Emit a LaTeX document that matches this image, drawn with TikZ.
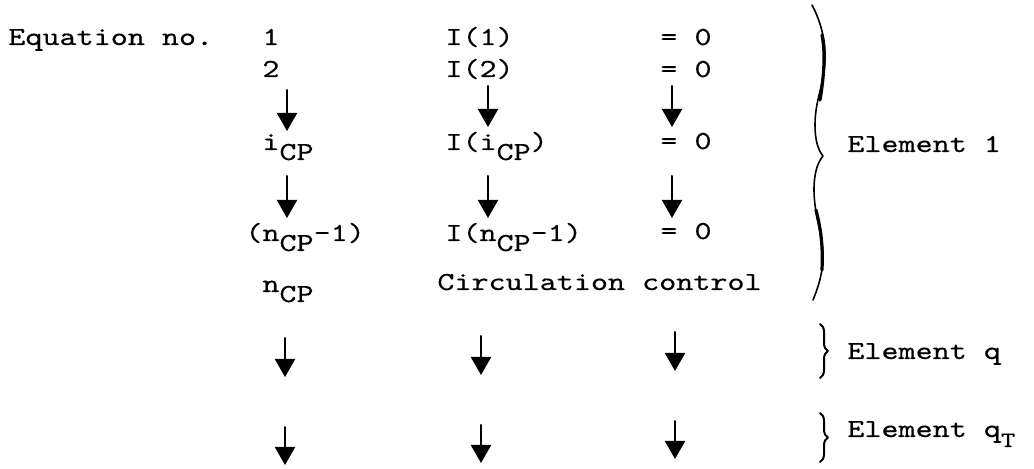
\documentclass[tikz,border=0pt]{standalone}
\usepackage{fontspec}
\usetikzlibrary{arrows.meta,decorations.pathreplacing}

% wide typewriter face
\newfontfamily\typer[FakeStretch=1.25,FakeBold=0.4]{lmmono10-regular.otf}
% subscripts are typed one half line lower
\newcommand\lowr[1]{\raisebox{-5pt}{#1}}

\begin{document}
\begin{tikzpicture}[x=0.5pt,y=-0.5pt,line cap=round,line join=round,
  every node/.style={font=\typer\fontsize{13pt}{15pt}\selectfont},
  txt/.style={anchor=base west,inner sep=0pt},
  arr/.style={line width=1pt,-{Triangle[width=10pt,length=9pt]}},
  brc/.style={line width=1pt,decorate,decoration={brace,amplitude=4pt}}]
  \useasboundingbox (0,0) rectangle (1034,469);

  % equation numbers and equations
  \node[txt] (eqno) at (8,45) {Equation no.};
  \node[txt] (n1) at (262,45) {1};
  \node[txt] (e1) at (445,45) {I(1)};
  \node[txt] (z1) at (660,45) {= 0};
  \node[txt] (n2) at (262,77) {2};
  \node[txt] (e2) at (445,77) {I(2)};
  \node[txt] (z2) at (660,77) {= 0};
  \node[txt] (n3) at (262,150) {i\lowr{CP}};
  \node[txt] (e3) at (445,150) {I(i\lowr{CP})};
  \node[txt] (z3) at (660,149) {= 0};
  \node[txt] (n4) at (245,241) {(n\lowr{CP}-1)};
  \node[txt] (e4) at (445,241) {I(n\lowr{CP}-1)};
  \node[txt] (z4) at (660,239) {= 0};
  \node[txt] (n5) at (262,292) {n\lowr{CP}};
  \node[txt] (circ) at (437,290) {Circulation control};

  % arrow ends
  \foreach \col/\x/\y in {p/287/0,q/488/-4,r/672/-4}{
    \coordinate (\col A1) at (\x,90+\y);  \coordinate (\col A2) at (\x,131+\y);
    \coordinate (\col B1) at (\x,176);    \coordinate (\col B2) at (\x,218);
  }
  \foreach \col/\x/\y in {p/285/2,q/481/0,r/675/-4}{
    \coordinate (\col C1) at (\x,336+\y); \coordinate (\col C2) at (\x,375+\y);
    \coordinate (\col D1) at (\x,425+\y); \coordinate (\col D2) at (\x,463+\y);
  }
  \foreach \col in {p,q,r}
    \foreach \k in {A,B,C,D}
      \draw[arr] (\col\k1) -- (\col\k2);

  % element 1
  \draw[line width=0.8pt] (812,5) .. controls (820,20) and (826,40) .. (825,60)
    .. controls (824,85) and (815,100) .. (815,125)
    .. controls (815,140) and (818,150) .. (823,156)
    .. controls (818,162) and (814,172) .. (814,190)
    .. controls (814,215) and (823,235) .. (823,255)
    .. controls (823,275) and (817,290) .. (813,300);
  \draw[line width=1.6pt] (822,35) .. controls (825,50) and (825,70) .. (820,100);
  \draw[line width=1.6pt] (816,210) .. controls (821,230) and (823,245) .. (822,270);
  \node[txt] (el1) at (847,152) {Element 1};

  % elements q and q_T
  \coordinate (bq1) at (820,324);  \coordinate (bq2) at (820,378);
  \coordinate (bt1) at (820,413);  \coordinate (bt2) at (820,462);
  \draw[brc] (bq1) -- (bq2);
  \draw[brc] (bt1) -- (bt2);
  \node[txt] (elq) at (847,359) {Element q};
  \node[txt] (elt) at (847,437) {Element q\lowr{\fontsize{11pt}{13pt}\selectfont T}};
\end{tikzpicture}
\end{document}
